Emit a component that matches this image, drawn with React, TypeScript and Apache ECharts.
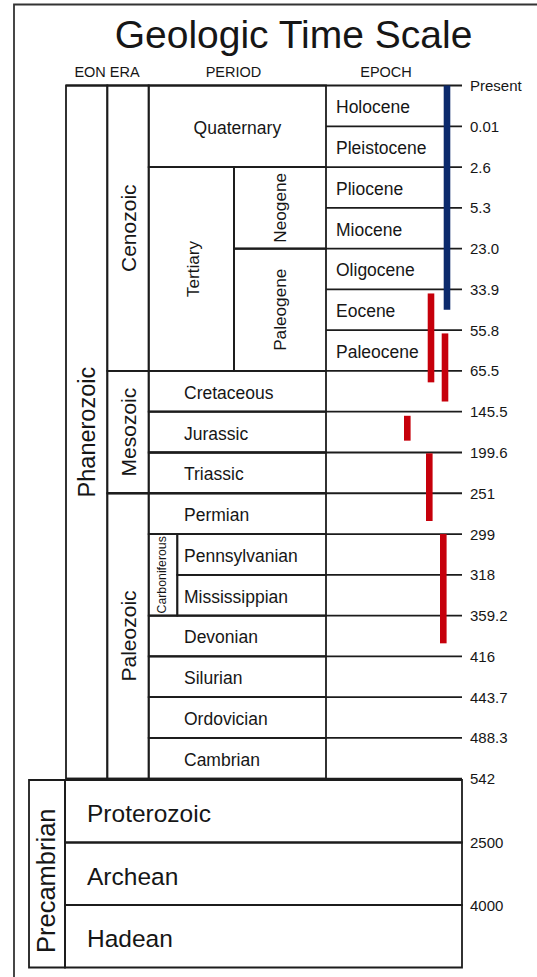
import React, { useEffect, useRef } from "react";
import * as echarts from "echarts";

// ---------------- DATA ----------------
// Boundary ages (Ma) between the Phanerozoic rows, top to bottom
const boundaries = ["Present", "0.01", "2.6", "5.3", "23.0", "33.9", "55.8", "65.5", "145.5", "199.6", "251", "299", "318", "359.2", "416", "443.7", "488.3", "542"];
const precambrianBoundaries = ["542", "2500", "4000"];

// [name, fromRow, toRow]
const eons: [string, number, number][] = [["Phanerozoic", 0, 17]];
const eras: [string, number, number][] = [["Cenozoic", 0, 7], ["Mesozoic", 7, 10], ["Paleozoic", 10, 17]];
const periods: [string, number, number][] = [
  ["Quaternary", 0, 2], ["Tertiary", 2, 7], ["Cretaceous", 7, 8], ["Jurassic", 8, 9], ["Triassic", 9, 10],
  ["Permian", 10, 11], ["Carboniferous", 11, 13], ["Devonian", 13, 14], ["Silurian", 14, 15],
  ["Ordovician", 15, 16], ["Cambrian", 16, 17],
];
const subperiods: [string, number, number][] = [["Neogene", 2, 4], ["Paleogene", 4, 7], ["Pennsylvanian", 11, 12], ["Mississippian", 12, 13]];
const epochs: [string, number, number][] = [
  ["Holocene", 0, 1], ["Pleistocene", 1, 2], ["Pliocene", 2, 3], ["Miocene", 3, 4],
  ["Oligocene", 4, 5], ["Eocene", 5, 6], ["Paleocene", 6, 7],
];
const precambrianSuper: [string, number, number][] = [["Precambrian", 0, 3]];
const precambrianEons: [string, number, number][] = [["Proterozoic", 0, 1], ["Archean", 1, 2], ["Hadean", 2, 3]];

// range bars, in row units
const blueRanges: [number, number][] = [[0, 5.5]];
const redRanges: [number, number][] = [[5.1, 7.28], [6.08, 7.75], [8.1, 8.71], [9.02, 10.68], [11.0, 13.68]];

// ---------------- LAYOUT / STYLE ----------------
const FONT = "'Liberation Sans', Arial, sans-serif";
const TEXT = "#161616";
const LINE = "#1c1c1c";
const LW = 1.8;
const BLUE = "#0c2a6c";
const RED = "#c6000b";

const G0 = { left: 66, top: 85.5, width: 396, height: 693.2 };
const G1 = { left: 29, top: 780, width: 433, height: 187.5 };

const COL = {
  eon: [0, 41.3],
  era: [41.3, 82.7],
  period: [82.7, 260],
  epoch: [260, 396],
} as Record<string, [number, number]>;
const narrowCols: Record<string, [number, number]> = {
  Tertiary: [82.7, 168], Carboniferous: [82.7, 111.3],
  Neogene: [168, 260], Paleogene: [168, 260],
  Pennsylvanian: [111.3, 260], Mississippian: [111.3, 260],
};
const rotatedSize: Record<string, number> = {
  Phanerozoic: 23.5, Cenozoic: 21, Mesozoic: 21, Paleozoic: 21,
  Tertiary: 17.2, Neogene: 17.2, Paleogene: 17.2, Carboniferous: 12.3,
};
const rotatedDx: Record<string, number> = { Tertiary: 2, Carboniferous: -1 };
const centered = new Set(["Quaternary"]);
const PERIOD_LABEL_X = 118;
const EPOCH_LABEL_X = 270;
const LABEL_SIZE = 17.5;
const LABEL_DY = 1.5;

const blueLanes = [381];
const redLanes = [365, 379, 341.3, 363.3, 377.3];
const BAR_W = 6.6;

type Cell = {
  name: string; from: number; to: number; x0: number; x1: number; box: boolean;
  mode: "rot" | "left" | "center"; size: number; lx: number; dx: number; dy: number;
};

function mk(list: [string, number, number][], level: string, box: boolean): Cell[] {
  return list.map(([name, from, to]) => {
    const [x0, x1] = narrowCols[name] || COL[level];
    const rot = rotatedSize[name] !== undefined;
    return {
      name, from, to, x0, x1, box,
      mode: rot ? "rot" : centered.has(name) ? "center" : "left",
      size: rot ? rotatedSize[name] : LABEL_SIZE,
      lx: level === "epoch" ? EPOCH_LABEL_X : PERIOD_LABEL_X,
      dx: rotatedDx[name] || 0,
      dy: rot ? 0 : LABEL_DY,
    } as Cell;
  });
}

const phanCells: Cell[] = [
  ...mk(eons, "eon", true),
  ...mk(eras, "era", true),
  ...mk(periods, "period", true),
  ...mk(subperiods, "period", true),
  ...mk(epochs, "epoch", false),
];

const preCells: Cell[] = [
  ...precambrianSuper.map(([name, from, to]) => ({ name, from, to, x0: 0, x1: 36, box: true, mode: "rot", size: 25.5, lx: 0, dx: -1, dy: 7 } as Cell)),
  ...precambrianEons.map(([name, from, to]) => ({ name, from, to, x0: 36, x1: 433, box: true, mode: "left", size: 24.5, lx: 58, dx: 0, dy: 2.5 } as Cell)),
];

// horizontal boundary lines: start at leftmost cell touching boundary
const lineStarts = boundaries.map((_, i) => {
  let s = COL.epoch[1];
  phanCells.forEach((c) => { if (c.from === i || c.to === i) s = Math.min(s, c.x0); });
  return s;
});

function cellRenderer(cells: Cell[]) {
  return (params: any, api: any) => {
    const c = cells[params.dataIndex];
    const p0 = api.coord([c.x0, c.from]);
    const p1 = api.coord([c.x1, c.to]);
    const children: any[] = [];
    if (c.box) {
      children.push({
        type: "rect",
        shape: { x: p0[0], y: p0[1], width: p1[0] - p0[0], height: p1[1] - p0[1] },
        style: { fill: "none", stroke: LINE, lineWidth: LW },
      });
    }
    const cy = (p0[1] + p1[1]) / 2 + c.dy;
    const base = { fontSize: c.size, fontFamily: FONT, fill: TEXT, text: c.name, verticalAlign: "middle" };
    if (c.mode === "rot") {
      children.push({ type: "text", x: (p0[0] + p1[0]) / 2 + c.dx, y: cy, rotation: Math.PI / 2, style: { ...base, align: "center" } });
    } else if (c.mode === "center") {
      children.push({ type: "text", x: (p0[0] + p1[0]) / 2, y: cy, style: { ...base, align: "center" } });
    } else {
      const lx = api.coord([c.lx, c.from])[0];
      children.push({ type: "text", x: lx, y: cy, style: { ...base, align: "left" } });
    }
    return { type: "group", children };
  };
}

function barRenderer(ranges: [number, number][], lanes: number[], color: string) {
  return (params: any, api: any) => {
    const i = params.dataIndex;
    const p0 = api.coord([lanes[i], ranges[i][0]]);
    const p1 = api.coord([lanes[i], ranges[i][1]]);
    return {
      type: "rect",
      shape: { x: p0[0] - BAR_W / 2, y: p0[1], width: BAR_W, height: p1[1] - p0[1] },
      style: { fill: color },
    };
  };
}

const axisLabelStyle = { fontFamily: FONT, fontSize: 15, color: TEXT, margin: 8 };

export default function App() {
  const ref = useRef<HTMLDivElement>(null);
  useEffect(() => {
    if (!ref.current) return;
    const chart = echarts.init(ref.current, null, { renderer: "svg" });
    chart.setOption({
      animation: false,
      backgroundColor: "#ffffff",
      grid: [
        { ...G0, containLabel: false },
        { ...G1, containLabel: false },
      ],
      xAxis: [
        { gridIndex: 0, type: "value", min: 0, max: G0.width, show: false },
        { gridIndex: 1, type: "value", min: 0, max: G1.width, show: false },
      ],
      yAxis: [
        {
          gridIndex: 0, type: "value", min: 0, max: 17, interval: 1, inverse: true, position: "right",
          axisLine: { show: false }, axisTick: { show: false }, splitLine: { show: false },
          axisLabel: { ...axisLabelStyle, showMinLabel: true, showMaxLabel: true, formatter: (v: number) => boundaries[Math.round(v)] ?? "" },
        },
        {
          gridIndex: 1, type: "value", min: 0, max: 3, interval: 1, inverse: true, position: "right",
          axisLine: { show: false }, axisTick: { show: false }, splitLine: { show: false },
          axisLabel: { ...axisLabelStyle, formatter: (v: number) => (v > 0 && v < 3 ? precambrianBoundaries[Math.round(v)] : "") },
        },
      ],
      graphic: [
        { type: "polyline", shape: { points: [[14, 977], [14, 4.5], [537, 4.5]] }, style: { fill: "none", stroke: "#333", lineWidth: 1.8 } },
        { type: "text", x: 293.5, y: 34, style: { text: "Geologic Time Scale", fontSize: 39, fontFamily: FONT, fill: TEXT, align: "center", verticalAlign: "middle" } },
        { type: "text", x: 107, y: 71.5, style: { text: "EON ERA", fontSize: 14.5, fontFamily: FONT, fill: TEXT, align: "center", verticalAlign: "middle" } },
        { type: "text", x: 233.5, y: 71.5, style: { text: "PERIOD", fontSize: 14.5, fontFamily: FONT, fill: TEXT, align: "center", verticalAlign: "middle" } },
        { type: "text", x: 386, y: 71.5, style: { text: "EPOCH", fontSize: 14.5, fontFamily: FONT, fill: TEXT, align: "center", verticalAlign: "middle" } },
      ],
      series: [
        {
          type: "custom", name: "boundaries", xAxisIndex: 0, yAxisIndex: 0, silent: true, clip: false,
          data: boundaries.map((_, i) => [lineStarts[i], i]),
          renderItem: (params: any, api: any) => {
            const i = params.dataIndex;
            const a = api.coord([lineStarts[i], i]);
            const b = api.coord([COL.epoch[1], i]);
            return { type: "line", shape: { x1: a[0], y1: a[1], x2: b[0], y2: b[1] }, style: { stroke: LINE, lineWidth: LW } };
          },
        },
        {
          type: "custom", name: "phanerozoic", xAxisIndex: 0, yAxisIndex: 0, silent: true, clip: false,
          data: phanCells.map((c) => [c.x0, c.from, c.x1, c.to]),
          encode: { x: [0, 2], y: [1, 3] },
          renderItem: cellRenderer(phanCells),
        },
        {
          type: "custom", name: "precambrian", xAxisIndex: 1, yAxisIndex: 1, silent: true, clip: false,
          data: preCells.map((c) => [c.x0, c.from, c.x1, c.to]),
          encode: { x: [0, 2], y: [1, 3] },
          renderItem: cellRenderer(preCells),
        },
        {
          type: "custom", name: "blue", xAxisIndex: 0, yAxisIndex: 0, silent: true, clip: false,
          data: blueRanges.map((r, i) => [blueLanes[i], r[0], r[1]]),
          encode: { x: 0, y: [1, 2] },
          renderItem: barRenderer(blueRanges, blueLanes, BLUE),
        },
        {
          type: "custom", name: "red", xAxisIndex: 0, yAxisIndex: 0, silent: true, clip: false,
          data: redRanges.map((r, i) => [redLanes[i], r[0], r[1]]),
          encode: { x: 0, y: [1, 2] },
          renderItem: barRenderer(redRanges, redLanes, RED),
        },
      ],
    });
    return () => chart.dispose();
  }, []);
  return <div ref={ref} style={{ position: "fixed", left: 0, top: 0, width: 537, height: 977, background: "#fff" }} />;
}
